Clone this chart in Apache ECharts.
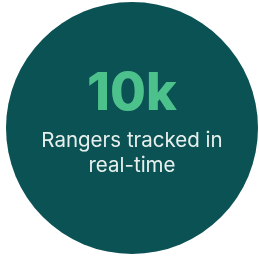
<!doctype html>
<html lang="en">
<head>
    <meta charset="UTF-8">
    <title>Rangers tracked</title>
    <script type="text/javascript" src="https://cdn.jsdelivr.net/npm/echarts@6/dist/echarts.min.js"></script>
    <style>
        html, body { margin: 0; padding: 0; background: #ffffff; }
        #main { width: 259px; height: 257px; }
    </style>
</head>
<body>
<div id="main"></div>
<script type="text/javascript">
    // stat shown in the badge
    var statNames = ['Rangers tracked'];
    var statValues = [10000];
    var statLabels = ['10k'];
    var captionLines = ['Rangers tracked in', 'real-time'];

    var myChart = echarts.init(document.getElementById('main'));

    var option = {
        backgroundColor: '#ffffff',
        animation: false,
        series: [{
            name: statNames[0],
            type: 'pie',
            center: [132, 128],
            radius: [0, 126],
            silent: true,
            itemStyle: {
                color: '#0b5254'
            },
            label: {
                show: true,
                position: 'center',
                offset: [0, -9],
                formatter: function () {
                    return '{big|' + statLabels[0] + '}\n' +
                        captionLines.map(function (s) { return '{sub|' + s + '}'; }).join('\n');
                },
                rich: {
                    big: {
                        fontFamily: 'Inter',
                        fontSize: 52,
                        fontWeight: 800,
                        color: '#4cc18b',
                        lineHeight: 68
                    },
                    sub: {
                        fontFamily: 'Inter',
                        fontSize: 20.5,
                        color: '#e7f0ed',
                        lineHeight: 25
                    }
                }
            },
            labelLine: { show: false },
            data: statValues.map(function (v, i) {
                return { value: v, name: statNames[i] };
            })
        }]
    };

    myChart.setOption(option);
</script>
</body>
</html>
